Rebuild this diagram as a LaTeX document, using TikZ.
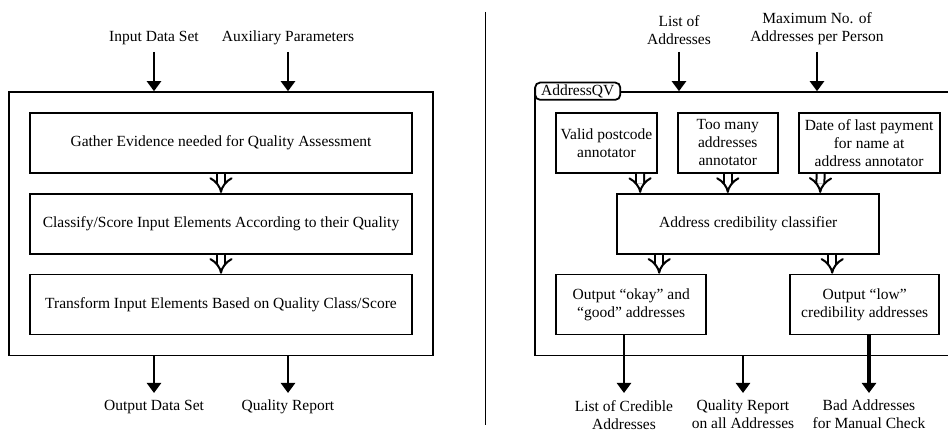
\documentclass[tikz,border=0pt]{standalone}
\usepackage{fontspec}
\setmainfont{Liberation Serif}
\usetikzlibrary{arrows.meta,positioning,fit,calc}

\begin{document}
\begin{tikzpicture}[x=1pt, y=-1pt, node distance=19pt,
      font=\fontsize{15.5}{18}\selectfont,
      blk/.style={draw, line width=1.8pt, align=center, minimum height=60pt, inner sep=1pt},
      wide/.style={blk, minimum width=382pt},
      frame/.style={draw, line width=1.8pt, inner sep=20pt},
      tag/.style={draw, line width=1.8pt, fill=white, rounded corners=5pt, inner ysep=2pt, inner xsep=6pt},
      lbl/.style={align=center, inner xsep=2pt, inner ysep=7pt},
      arr/.style={line width=2.4pt, -{Triangle[width=14pt, length=10pt]}},
      dbl/.style={double, double distance=6pt, line width=2pt, -{Implies}}]
    \useasboundingbox (0,0) rectangle (948,435);
    \clip (0,0) rectangle (948,435);
    % generic quality view
    \node[wide] (gath) at (221,143) {Gather Evidence needed for Quality Assessment};
    \node[wide, below=of gath] (clsf) {Classify/Score Input Elements According to their Quality};
    \node[wide, below=of clsf] (trf) {Transform Input Elements Based on Quality Class/Score};
    \node[frame, fit=(gath)(trf)] (qbox) {};
    \draw[dbl] (gath) -- (clsf); \draw[dbl] (clsf) -- (trf);
    \node[lbl, anchor=south] (inDS) at (154,52) {Input Data Set};
    \node[lbl, anchor=south] (auxP) at (288,52) {Auxiliary Parameters};
    \node[lbl, anchor=north] (outDS) at (154,393) {Output Data Set};
    \node[lbl, anchor=north] (qRep) at (288,393) {Quality Report};
    \draw[arr] (inDS.south) -- (inDS.south |- qbox.north);
    \draw[arr] (auxP.south) -- (auxP.south |- qbox.north);
    \draw[arr] (qbox.south -| outDS.north) -- (outDS.north);
    \draw[arr] (qbox.south -| qRep.north) -- (qRep.north);
    % separator
    \draw[line width=0.8pt] (485,12) -- (485,425);
    % AddressQV
    \node[blk, minimum width=101pt] (pcA) at (606.5,143) {Valid postcode\\annotator};
    \node[blk, minimum width=100pt, right=of pcA] (tmA) {Too many\\addresses\\annotator};
    \node[blk, minimum width=141pt, right=of tmA] (dpA) {Date of last payment\\for name at\\address annotator};
    \node[blk, minimum width=262pt, below=of tmA, xshift=20.4pt] (acc) {Address credibility classifier};
    \node[blk, minimum width=150pt, below=of acc, xshift=-117pt] (okO) {Output “okay” and\\“good” addresses};
    \node[blk, minimum width=149pt, below=of acc, xshift=116.5pt] (lowO) {Output “low”\\credibility addresses};
    \node[frame, fit=(pcA)(dpA)(okO)(lowO)] (qvbox) {};
    \node[tag, anchor=west] (qvtag) at (qvbox.north west) {AddressQV};
    \draw[dbl] ([xshift=33.5pt]pcA.south) -- ([xshift=-108pt]acc.north);
    \draw[dbl] (tmA.south) -- ([xshift=-20.4pt]acc.north);
    \draw[dbl] ([xshift=-48.5pt]dpA.south) -- ([xshift=72pt]acc.north);
    \draw[dbl] ([xshift=-89pt]acc.south) -- ([xshift=28pt]okO.north);
    \draw[dbl] ([xshift=84pt]acc.south) -- ([xshift=-32.5pt]lowO.north);
    \node[lbl, anchor=south] (lAddr) at (679,52) {List of\\Addresses};
    \node[lbl, anchor=south] (maxN) at (817,52) {Maximum No. of\\Addresses per Person};
    \node[lbl, anchor=north] (lcA) at (624,393) {List of Credible\\Addresses};
    \node[lbl, anchor=north] (qrA) at (743,393) {Quality Report\\on all Addresses};
    \node[lbl, anchor=north] (bmC) at (869,393) {Bad Addresses\\for Manual Check};
    \draw[arr] (lAddr.south) -- (lAddr.south |- qvbox.north);
    \draw[arr] (maxN.south) -- (maxN.south |- qvbox.north);
    \draw[arr] (lcA.north |- okO.south) -- (lcA.north);
    \draw[arr] (qrA.north |- qvbox.south) -- (qrA.north);
    \draw[arr, line width=4pt] (bmC.north |- lowO.south) -- (bmC.north);
  \end{tikzpicture}
\end{document}
